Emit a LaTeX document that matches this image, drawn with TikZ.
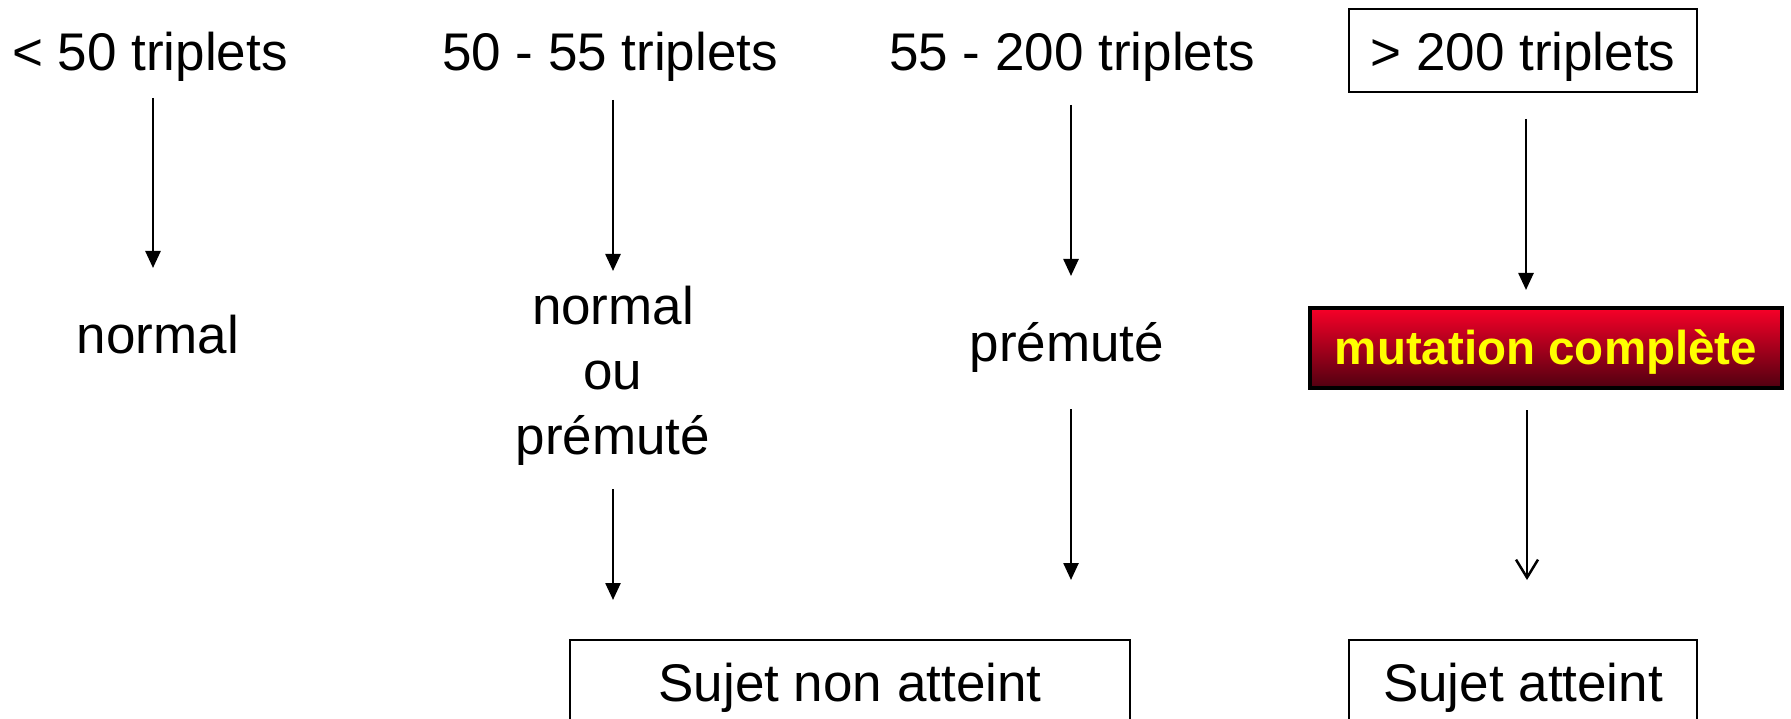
\documentclass[tikz,border=0pt]{standalone}
\usepackage{fontspec}
\setmainfont{Liberation Sans}
\usetikzlibrary{arrows.meta}
\definecolor{redtop}{RGB}{248,0,40}
\definecolor{redbot}{RGB}{80,0,16}
\definecolor{txtyellow}{RGB}{255,255,0}
\begin{document}
\begin{tikzpicture}[x=1pt,y=-1pt,
  txt/.style={font=\fontsize{53}{65}\selectfont, inner sep=0pt},
  boxed/.style={draw, line width=2pt, font=\fontsize{53}{65}\selectfont, inner sep=0pt},
  redbox/.style={draw=black, line width=3.5pt, top color=redtop, bottom color=redbot,
    text=txtyellow, font=\fontsize{47.5}{57}\selectfont\bfseries,
    minimum width=472pt, minimum height=80pt, text height=36pt, text depth=4pt, inner sep=0pt},
  arr/.style={line width=2.5pt, -{Triangle[length=17pt,width=15pt]}},
  arropen/.style={line width=2.5pt, -{Straight Barb[length=18pt,width=22pt,line width=2.5pt]}},
]
\useasboundingbox (0,0) rectangle (1791,719);
\clip (0,0) rectangle (1791,719);

% top labels
\node[txt, anchor=base] (t1) at (150,71) {< 50 triplets};
\node[txt, anchor=base] (t2) at (610,71) {50 - 55 triplets};
\node[txt, anchor=base] (t3) at (1072,71) {55 - 200 triplets};
\node[boxed, minimum width=348pt, minimum height=83pt, text height=45pt, text depth=4pt] (t4) at (1523,50.5) {> 200 triplets};

% middle labels
\node[txt, anchor=base] (n1) at (158,353) {normal};
\node[txt, anchor=base, align=center] (n2) at (613,454) {normal\\ou\\prémuté};
\node[txt, anchor=base] (n3) at (1067,361) {prémuté};
\node[redbox] (n4) at (1546,348) {mutation complète};

% bottom boxes
\node[boxed, anchor=north, minimum width=560pt, text height=40pt, text depth=14pt, inner ysep=21pt] (s1) at (850,639) {Sujet non atteint};
\node[boxed, anchor=north, minimum width=348pt, text height=40pt, text depth=14pt, inner ysep=21pt] (s2) at (1523,639) {Sujet atteint};

% arrow ends
\coordinate (a1s) at (153,98);  \coordinate (a1e) at (153,268);
\coordinate (a2s) at (613,100); \coordinate (a2e) at (613,271);
\coordinate (a3s) at (1071,105); \coordinate (a3e) at (1071,276);
\coordinate (a4s) at (1526,119); \coordinate (a4e) at (1526,290);
\coordinate (b2s) at (613,489); \coordinate (b2e) at (613,600);
\coordinate (b3s) at (1071,409); \coordinate (b3e) at (1071,580);
\coordinate (b4s) at (1527,410); \coordinate (b4e) at (1527,580);

\draw[arr] (a1s) -- (a1e);
\draw[arr] (a2s) -- (a2e);
\draw[arr] (a3s) -- (a3e);
\draw[arr] (a4s) -- (a4e);
\draw[arr] (b2s) -- (b2e);
\draw[arr] (b3s) -- (b3e);
\draw[arropen] (b4s) -- (b4e);
\end{tikzpicture}
\end{document}
